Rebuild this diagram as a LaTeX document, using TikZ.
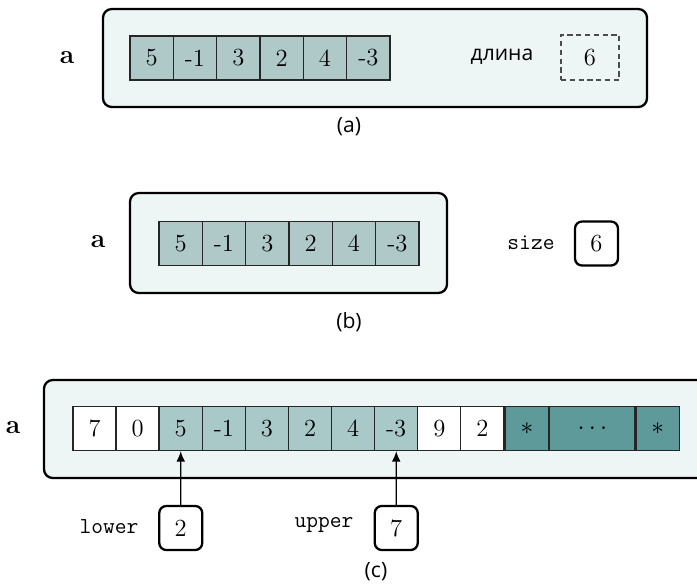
\documentclass[tikz,border=0pt]{standalone}
\usepackage{fontspec}
\newfontfamily\sansru{Open Sans}
\usepackage{xcolor}
\usepackage{tikz}
\usetikzlibrary{arrows.meta,positioning}
\definecolor{panelbg}{HTML}{EEF5F5}
\definecolor{cellfill}{HTML}{AFC8C8}
\definecolor{cellmid}{HTML}{A9C9C9}
\definecolor{celldark}{HTML}{5F9A9A}
\tikzset{
  panel/.style={draw=black,line width=1.3pt,rounded corners=5pt,fill=panelbg},
  cell/.style={draw=black!85,line width=0.7pt,minimum width=0.866cm,minimum height=0.88cm,inner sep=0pt,font=\fontsize{14}{16}\selectfont},
  inuse/.style={cell,fill=cellfill},
  inrange/.style={cell,fill=cellmid},
  unused/.style={cell,fill=white},
  spare/.style={cell,fill=celldark},
  valbox/.style={draw=black,line width=1.3pt,rounded corners=4pt,fill=white,minimum width=0.86cm,minimum height=0.88cm,inner sep=0pt,font=\fontsize{14}{16}\selectfont},
  lenbox/.style={draw=black!70,densely dashed,line width=1pt,fill=panelbg,minimum width=1.16cm,minimum height=0.9cm,inner sep=0pt,font=\fontsize{14}{16}\selectfont},
  varname/.style={font=\bfseries\fontsize{15}{17}\selectfont},
  field/.style={font=\ttfamily\fontsize{13}{15}\selectfont},
  captext/.style={font=\sansru\fontsize{12}{14}\selectfont},
  ptr/.style={-{Latex[length=6pt,width=5pt]},line width=0.8pt}
}

\begin{document}
\begin{tikzpicture}[x=0.02cm,y=-0.02cm]
\useasboundingbox (0,0) rectangle (697,583);
\clip (0,0) rectangle (697,583);
% (a)
\draw[panel] (103,9) rectangle (647,107);
\node[varname] (na) at (67,58) {a};
\foreach \v [count=\i] in {5,-1,3,2,4,-3}
  \node[inuse] (a\i) at ({130+43.33*(\i-0.5)},58) {\v};
\node[captext] (lena) at (502,57) {длина};
\node[lenbox] (la) at (590,57.5) {6};
\node[captext] (capa) at (349,127) {(a)};
% (b)
\draw[panel] (130,193) rectangle (447,293);
\node[varname] (nb) at (98,242) {a};
\foreach \v [count=\i] in {5,-1,3,2,4,-3}
  \node[inuse] (b\i) at ({159+43.33*(\i-0.5)},243.5) {\v};
\node[field] (sizeb) at (531,243) {size};
\node[valbox] (lb) at (596.5,243.5) {6};
\node[captext] (capb) at (349,322) {(b)};
% (c)
\draw[panel] (44,380) rectangle (760,478);
\node[varname] (nc) at (13,428) {a};
\foreach \v [count=\i] in {7,0}
  \node[unused] (c\i) at ({73+43.1*(\i-0.5)},428.5) {\v};
\foreach \v [count=\i from 3] in {5,-1,3,2,4,-3}
  \node[inrange] (c\i) at ({73+43.1*(\i-0.5)},428.5) {\v};
\foreach \v [count=\i from 9] in {9,2}
  \node[unused] (c\i) at ({73+43.1*(\i-0.5)},428.5) {\v};
\node[spare,right=0pt of c10] (s1) {$\ast$};
\node[spare,minimum width=1.7cm,right=0pt of s1] (s2) {$\cdots$};
\node[spare,right=0pt of s2] (s3) {$\ast$};
\node[valbox] (lo) at (180.75,528) {2};
\node[valbox] (hi) at (396.25,528) {7};
\node[field] (lol) at (109,527) {lower};
\node[field] (hil) at (324,525) {upper};
\draw[ptr] (lo.north) -- (c3.south);
\draw[ptr] (hi.north) -- (c8.south);
\node[captext] (capc) at (376,572) {(c)};
\end{tikzpicture}
\end{document}
